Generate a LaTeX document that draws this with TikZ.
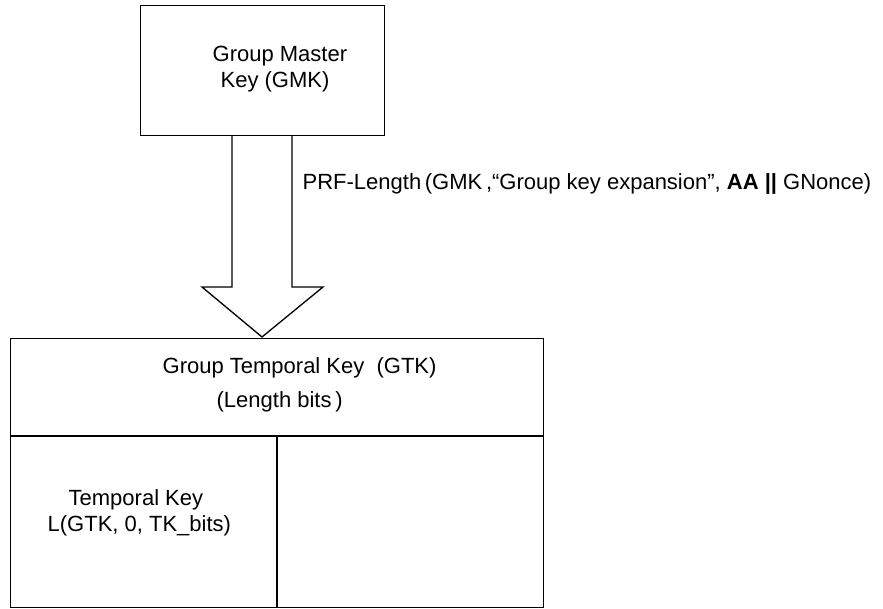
\documentclass[tikz,border=0pt]{standalone}
\usepackage{fontspec}
\setmainfont{Liberation Sans}
\begin{document}
\begin{tikzpicture}[x=1pt,y=-1pt,
  line width=1.3pt,
  lbl/.style={anchor=base west,inner sep=0pt,font=\fontsize{22}{26}\selectfont},
  boxline/.style={draw=black,line width=1.3pt}]
\useasboundingbox (0,0) rectangle (883,608);
% top box
\node[boxline,rectangle,minimum width=244pt,minimum height=130pt,anchor=north west,inner sep=0pt] (gmk) at (140,5) {};
\node[lbl] (gmk1) at (212,61) {Group Master};
\node[lbl] (gmk2) at (220,87) {Key (GMK)};
% bottom box
\node[boxline,rectangle,minimum width=533pt,minimum height=269pt,anchor=north west,inner sep=0pt] (gtk) at (10,338) {};
\coordinate (hl) at (10,436);
\coordinate (hr) at (543,436);
\coordinate (vt) at (277,436);
\coordinate (vb) at (277,607);
\draw[boxline] (hl) -- (hr);
\draw[boxline] (vt) -- (vb);
\node[lbl] (gtk1) at (162,373) {Group Temporal Key \ (GTK)};
\node[lbl] (gtk2) at (216,407) {(Length bits\,)};
\node[lbl] (tk1) at (68,505) {Temporal Key};
\node[lbl] (tk2) at (47,531) {L(GTK, 0, TK\_bits)};
% block arrow
\coordinate (s1) at (232,135);
\coordinate (s2) at (232,287);
\coordinate (w1) at (202,287);
\coordinate (tip) at (262,337);
\coordinate (w2) at (323,287);
\coordinate (s3) at (292,287);
\coordinate (s4) at (292,135);
\draw[boxline,line join=miter] (s1) -- (s2) -- (w1) -- (tip) -- (w2) -- (s3) -- (s4);
\node[lbl] (prf) at (302,189) {PRF-Length\,(GMK\,,“Group key expansion”, {\bfseries AA} {\bfseries||} GNonce)};
\end{tikzpicture}
\end{document}
